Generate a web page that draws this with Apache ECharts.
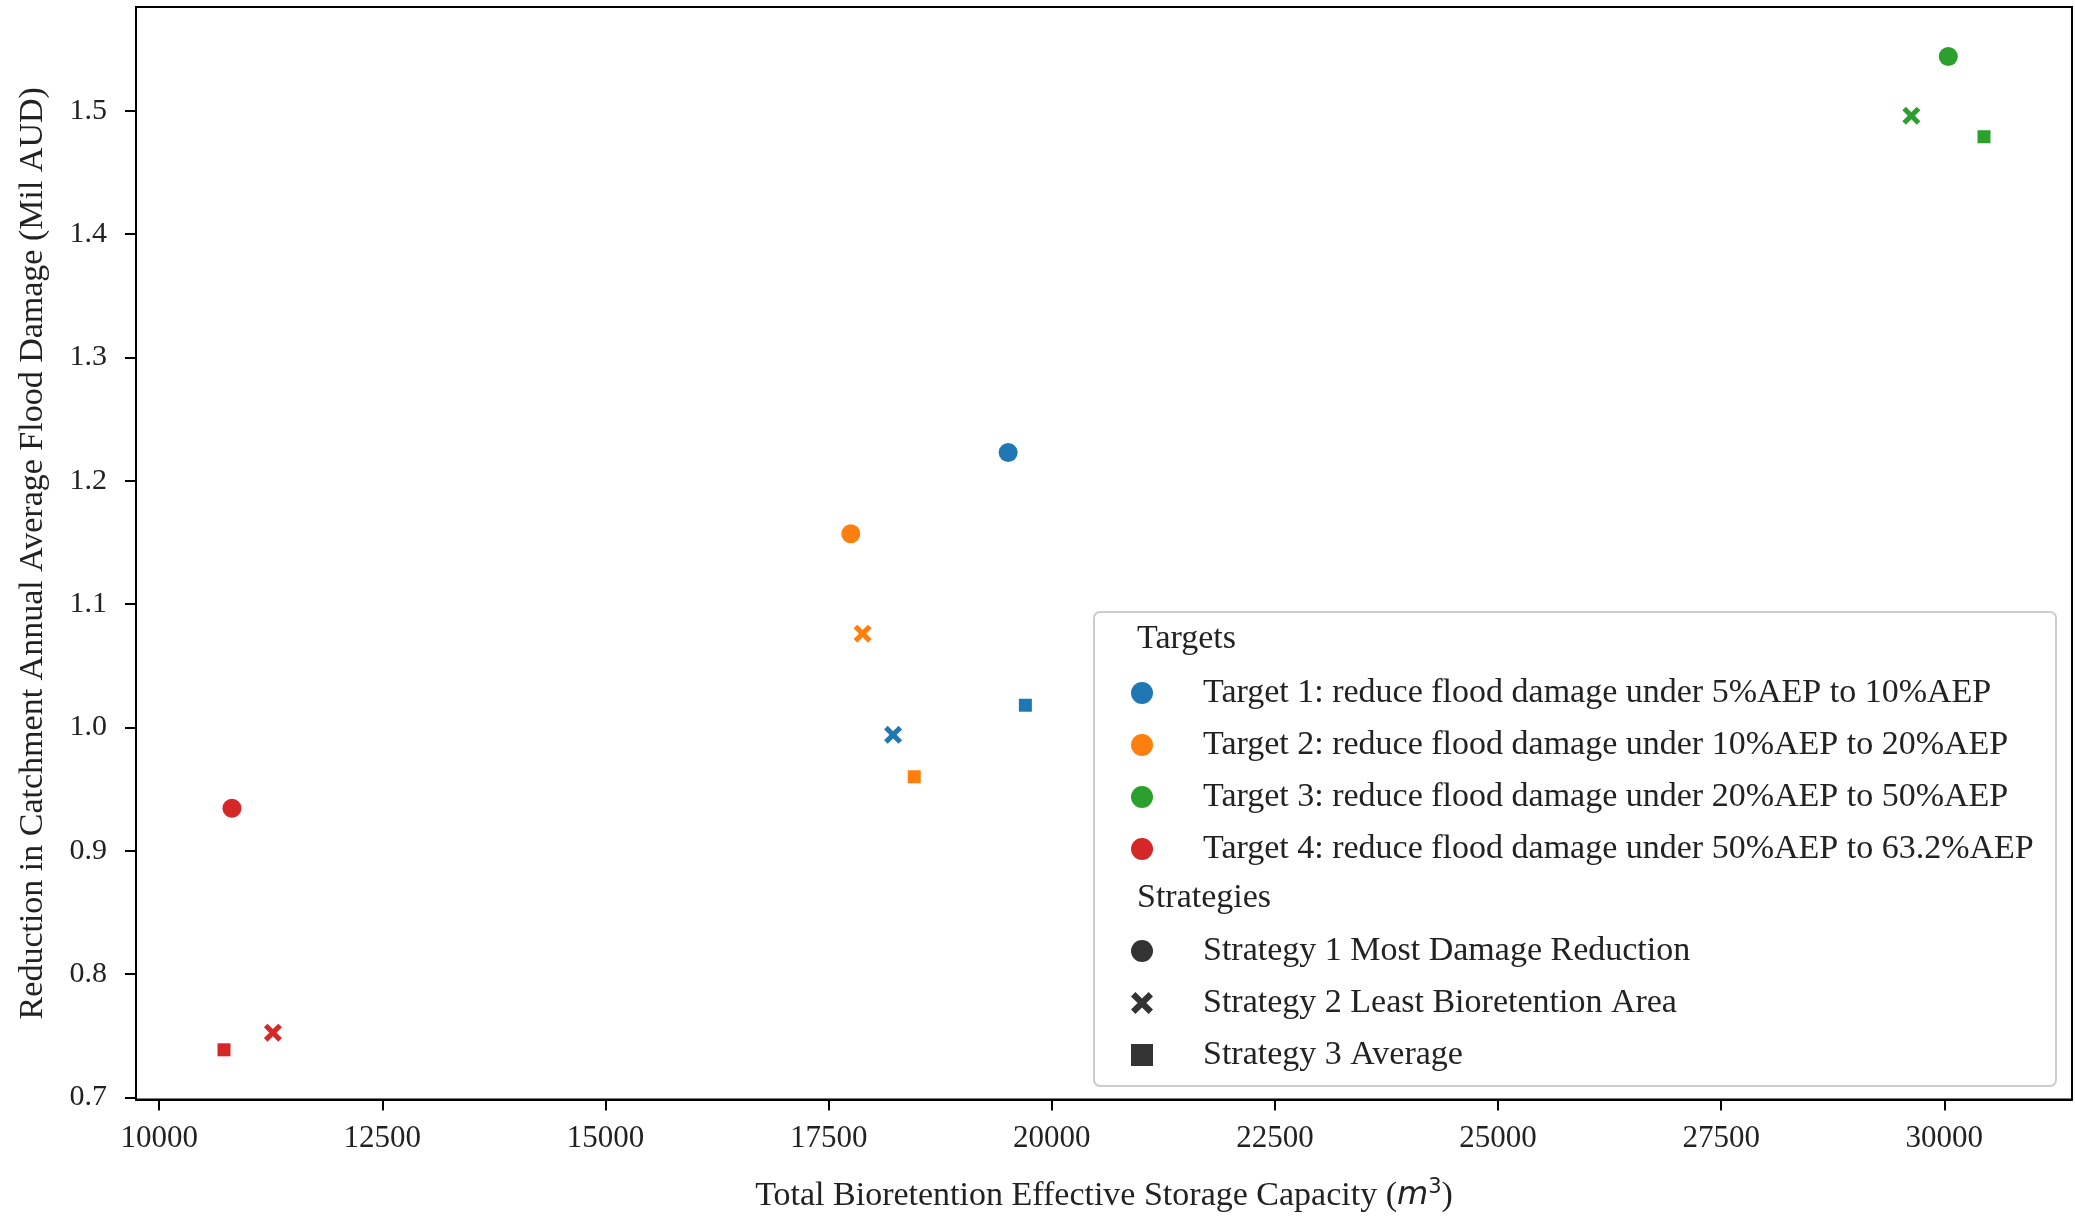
<!DOCTYPE html>
<html><head><meta charset="utf-8">
<script src="https://cdn.jsdelivr.net/npm/echarts@6/dist/echarts.min.js"></script>
<style>html,body{margin:0;padding:0;background:#fff}#c{width:2075px;height:1218px}</style>
</head><body><div id="c"></div>
<script>
const targetNames = [
  'Target 1: reduce flood damage under 5%AEP to 10%AEP',
  'Target 2: reduce flood damage under 10%AEP to 20%AEP',
  'Target 3: reduce flood damage under 20%AEP to 50%AEP',
  'Target 4: reduce flood damage under 50%AEP to 63.2%AEP'
];
const strategyNames = [
  'Strategy 1 Most Damage Reduction',
  'Strategy 2 Least Bioretention Area',
  'Strategy 3 Average'
];
// per target: [strategy1, strategy2, strategy3]
const capT1 = [19511, 18222, 19704];
const dmgT1 = [1.223, 0.994, 1.018];
const capT2 = [17748, 17881, 18459];
const dmgT2 = [1.157, 1.076, 0.960];
const capT3 = [30044, 29630, 30444];
const dmgT3 = [1.544, 1.496, 1.479];
const capT4 = [10815, 11274, 10726];
const dmgT4 = [0.9345, 0.7525, 0.7386];
const xTicks = [10000, 12500, 15000, 17500, 20000, 22500, 25000, 27500, 30000];
const yTicks = [0.7, 0.8, 0.9, 1.0, 1.1, 1.2, 1.3, 1.4, 1.5];

const colors = ['#1f77b4', '#ff7f0e', '#2ca02c', '#d62728'];
const xPath = 'path://M0,2 L2,0 L5,3 L8,0 L10,2 L7,5 L10,8 L8,10 L5,7 L2,10 L0,8 L3,5 Z';
const stratSymbols = ['circle', xPath, 'rect'];
const stratSizes = [19, 18, 13];
const caps = [capT1, capT2, capT3, capT4];
const dmgs = [dmgT1, dmgT2, dmgT3, dmgT4];

const FONT = '"Liberation Serif", "DejaVu Serif", serif';

const series = targetNames.map((name, i) => ({
  type: 'scatter', name: name, color: colors[i],
  itemStyle: {color: colors[i], opacity: 1},
  data: caps[i].map((c, j) => ({value: [c, dmgs[i][j]], symbol: stratSymbols[j], symbolSize: stratSizes[j]}))
}));
strategyNames.forEach((name, j) => series.push({
  type: 'scatter', name: name, data: [], symbol: stratSymbols[j], itemStyle: {color: '#333333', opacity: 1}
}));

const chart = echarts.init(document.getElementById('c'));
chart.setOption({
  animation: false,
  textStyle: {fontFamily: FONT},
  grid: {left: 136, top: 7, right: 3, bottom: 107, show: true, borderColor: '#000', borderWidth: 2, backgroundColor: 'transparent'},
  xAxis: {
    type: 'value', min: 9740, max: 31430,
    axisLine: {show: true, lineStyle: {color: '#000', width: 2}},
    axisTick: {show: true, length: 11, lineStyle: {color: '#000', width: 2}, customValues: xTicks},
    axisLabel: {customValues: xTicks, color: '#222', fontFamily: FONT, fontSize: 31, margin: 24,
      formatter: v => String(v)},
    splitLine: {show: false},
    name: '{a|Total Bioretention Effective Storage Capacity (}{i|m}{s|3}{a|)}',
    nameLocation: 'middle', nameGap: 78,
    nameTextStyle: {rich: {
      a: {fontFamily: FONT, fontSize: 34, color: '#222'},
      i: {fontFamily: '"DejaVu Sans", sans-serif', fontStyle: 'italic', fontSize: 32, color: '#222'},
      s: {fontFamily: '"DejaVu Sans", sans-serif', fontSize: 21, color: '#222', verticalAlign: 'top', padding: [0, 0, 16, 0]}
    }}
  },
  yAxis: {
    type: 'value', min: 0.6983, max: 1.5842,
    axisLine: {show: true, lineStyle: {color: '#000', width: 2}},
    axisTick: {show: true, length: 11, lineStyle: {color: '#000', width: 2}, customValues: yTicks},
    axisLabel: {customValues: yTicks, color: '#222', fontFamily: FONT, fontSize: 30, margin: 29,
      formatter: v => v.toFixed(1)},
    splitLine: {show: false},
    name: 'Reduction in Catchment Annual Average Flood Damage (Mil AUD)',
    nameLocation: 'middle', nameGap: 86,
    nameTextStyle: {fontFamily: FONT, fontSize: 34, color: '#222'}
  },
  legend: [
    {
      orient: 'vertical', left: 1131, top: 667, padding: 0, itemGap: 0,
      itemWidth: 22, itemHeight: 22,
      textStyle: {fontFamily: FONT, fontSize: 34, color: '#222', lineHeight: 52, padding: [0, 0, 0, 45]},
      data: targetNames.map(n => ({name: n, icon: 'circle'}))
    },
    {
      orient: 'vertical', left: 1131, top: 925, padding: 0, itemGap: 0,
      itemWidth: 22, itemHeight: 22,
      textStyle: {fontFamily: FONT, fontSize: 34, color: '#222', lineHeight: 52, padding: [0, 0, 0, 45]},
      data: strategyNames.map((n, j) => ({name: n, icon: j === 0 ? 'circle' : (j === 1 ? xPath : 'rect')}))
    }
  ],
  graphic: [
    {type: 'rect', left: 1093, top: 611, z: 0, shape: {width: 962, height: 474, r: 6},
      style: {fill: 'rgba(255,255,255,0.85)', stroke: '#cccccc', lineWidth: 2}},
    {type: 'text', x: 1137, y: 639, z: 5, style: {text: 'Targets', fontFamily: FONT, fontSize: 34, fill: '#222', verticalAlign: 'middle'}},
    {type: 'text', x: 1137, y: 898, z: 5, style: {text: 'Strategies', fontFamily: FONT, fontSize: 34, fill: '#222', verticalAlign: 'middle'}}
  ],
  series: series
});
</script></body></html>
